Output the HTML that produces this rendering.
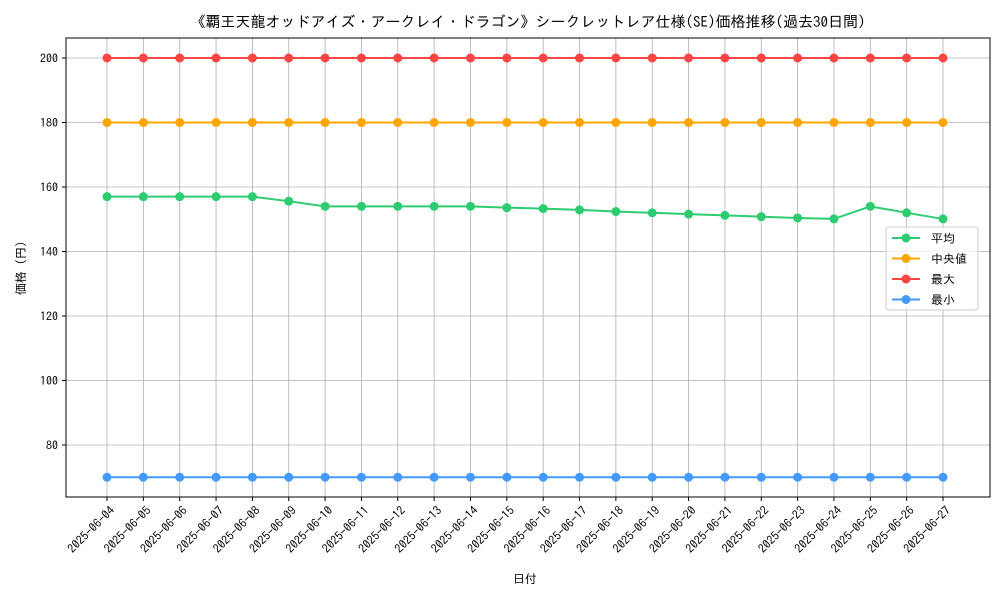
<!DOCTYPE html>
<html><head><meta charset="utf-8"><style>
body{margin:0;background:#fff;width:1000px;height:600px;overflow:hidden}
svg text{font-family:"IPAGothic","Noto Sans CJK JP",sans-serif;fill:#000}
</style></head><body>
<svg id="chart" width="1000" height="600" xmlns="http://www.w3.org/2000/svg">
<rect width="1000" height="600" fill="#fff"/>
<text x="528" y="27" font-size="15" text-anchor="middle">《覇王天龍オッドアイズ・アークレイ・ドラゴン》シークレットレア仕様(SE)価格推移(過去30日間)</text>
<g id="grid"></g><g id="axes"></g><g id="series"></g>
<text x="525" y="583" font-size="12" text-anchor="middle">日付</text>
<text transform="translate(25,268) rotate(-90)" font-size="12" text-anchor="middle">価格 (円)</text>
<g id="legend"></g>
</svg>
<script>
const dates=["2025-06-04","2025-06-05","2025-06-06","2025-06-07","2025-06-08","2025-06-09","2025-06-10","2025-06-11","2025-06-12","2025-06-13","2025-06-14","2025-06-15","2025-06-16","2025-06-17","2025-06-18","2025-06-19","2025-06-20","2025-06-21","2025-06-22","2025-06-23","2025-06-24","2025-06-25","2025-06-26","2025-06-27"];
const avgValues=[157,157,157,157,157,155.6,154,154,154,154,154,153.6,153.3,152.9,152.4,152,151.6,151.2,150.8,150.4,150.1,154,152,150.1];
const medianValues=[180,180,180,180,180,180,180,180,180,180,180,180,180,180,180,180,180,180,180,180,180,180,180,180];
const maxValues=[200,200,200,200,200,200,200,200,200,200,200,200,200,200,200,200,200,200,200,200,200,200,200,200];
const minValues=[70,70,70,70,70,70,70,70,70,70,70,70,70,70,70,70,70,70,70,70,70,70,70,70];
const yTicks=[80,100,120,140,160,180,200];
const seriesNames=["平均","中央値","最大","最小"];
const NS="http://www.w3.org/2000/svg";
const L=66,R=990,T=38,B=497;
const x0=107,x1=943;
const xs=i=>x0+(x1-x0)*i/(dates.length-1);
const ys=v=>445-(v-80)*(445-58)/120;
function mk(tag,attrs,parent){const e=document.createElementNS(NS,tag);for(const k in attrs)e.setAttribute(k,attrs[k]);parent.appendChild(e);return e;}
const grid=document.getElementById('grid'),axes=document.getElementById('axes'),ser=document.getElementById('series'),leg=document.getElementById('legend');
dates.forEach((d,i)=>{
 const g=mk('line',{x1:xs(i),x2:xs(i),y1:T,y2:B,stroke:'#b0b0b0','stroke-width':0.8},grid);
 
 
 mk('line',{x1:xs(i),x2:xs(i),y1:B,y2:B+4,stroke:'#000'},axes);
 const t=mk('text',{transform:`translate(${xs(i)+6},${B+12}) rotate(-45)`,'font-size':12,'text-anchor':'end','dominant-baseline':'middle'},axes);
 t.textContent=d;
 
 
});
yTicks.forEach(v=>{
 const g=mk('line',{x1:L,x2:R,y1:ys(v),y2:ys(v),stroke:'#b0b0b0','stroke-width':0.8},grid);
 
 
 mk('line',{x1:L-4,x2:L,y1:ys(v),y2:ys(v),stroke:'#000'},axes);
 const t=mk('text',{x:L-8,y:ys(v)+4.5,'font-size':12,'text-anchor':'end'},axes);
 t.textContent=v;
 
 
});
const frame=mk('rect',{x:L,y:T,width:R-L,height:B-T,fill:'none',stroke:'#000','stroke-width':1},axes);


const series=[[avgValues,'#2ecc71','avg'],[medianValues,'#ffa500','median'],[maxValues,'#ff4444','max'],[minValues,'#4499ff','min']];
series.forEach(([vals,c,n],si)=>{
 const g=mk('g',{},ser);
 
 
 const p=mk('polyline',{points:vals.map((v,i)=>xs(i)+','+ys(v)).join(' '),fill:'none',stroke:c,'stroke-width':2},g);
 
 
 vals.forEach((v,i)=>{
  const m=mk('circle',{cx:xs(i),cy:ys(v),r:4.5,fill:c},g);
  
  
 });
 const ly=238+si*20.5;
 const le=mk('g',{},leg);
 
 
 mk('line',{x1:892,x2:920,y1:ly,y2:ly,stroke:c,'stroke-width':2},le);
 mk('circle',{cx:906,cy:ly,r:4.5,fill:c},le);
 const t=mk('text',{x:931,y:ly+4.5,'font-size':12},le);
 t.textContent=seriesNames[si];
});
const box=document.createElementNS(NS,'rect');
[['x',886],['y',227],['width',92],['height',83],['rx',3],['fill','#fff'],['fill-opacity','0.8'],['stroke','#ccc']].forEach(([k,v])=>box.setAttribute(k,v));


leg.insertBefore(box,leg.firstChild);
</script>
</body></html>
